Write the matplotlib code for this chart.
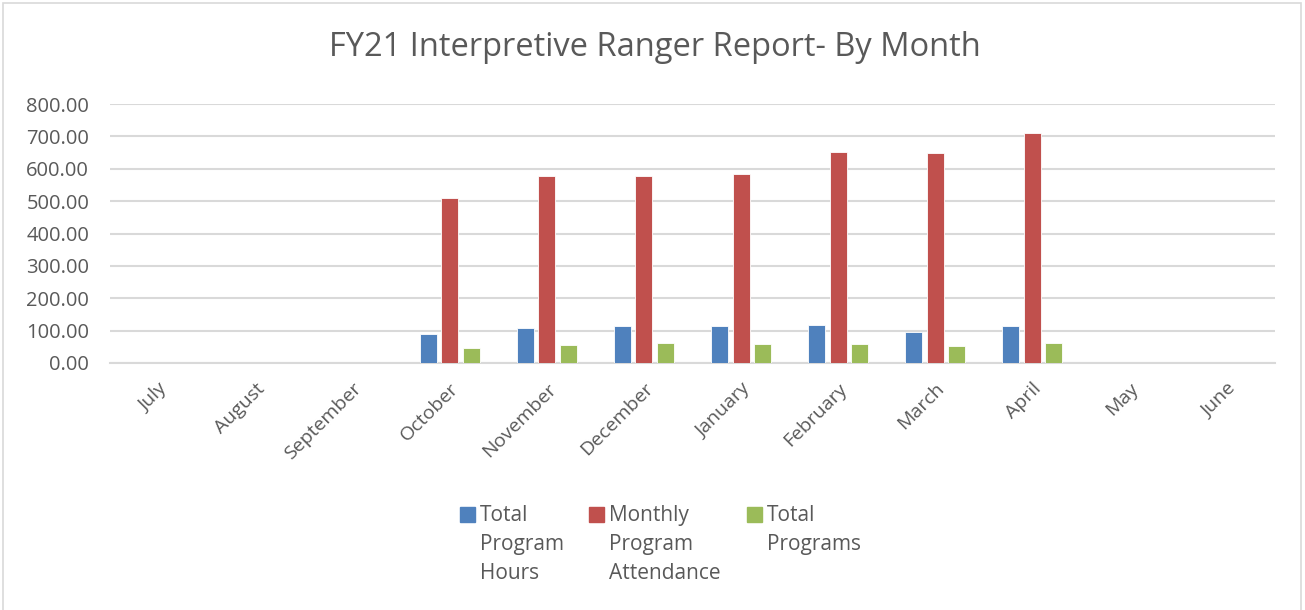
#!/usr/bin/env python3
# -*- coding: utf-8 -*-

import numpy as np
import matplotlib
matplotlib.use('Agg')
import matplotlib.pyplot as plt
from matplotlib.patches import Rectangle

months = ['July', 'August', 'September', 'October', 'November', 'December',
          'January', 'February', 'March', 'April', 'May', 'June']
hours = [0, 0, 0, 90, 108, 115, 115, 118, 95, 115, 0, 0]
attendance = [0, 0, 0, 509, 577, 577, 584, 651, 649, 709, 0, 0]
programs = [0, 0, 0, 46, 56, 62, 59, 59, 51, 61, 0, 0]
series_names = ['Total\nProgram\nHours', 'Monthly\nProgram\nAttendance', 'Total\nPrograms']
colors = ['#4f81bd', '#c0504d', '#9bbb59']
yticks = [0, 100, 200, 300, 400, 500, 600, 700, 800]

txt = '#595959'
grid = '#d9d9d9'
plt.rcParams['font.family'] = ['Open Sans', 'DejaVu Sans']

W, H = 1305, 610
fig = plt.figure(figsize=(W / 100, H / 100), dpi=100)
ax = fig.add_axes([110 / W, 1 - 363 / H, (1275 - 110) / W, (363 - 104) / H])

x = np.arange(len(months))
width = 0.175
step = 0.222
for i, (vals, c) in enumerate(zip([hours, attendance, programs], colors)):
    ax.bar(x + (i - 1) * step, vals, width, color=c, edgecolor='white', linewidth=0.6, zorder=3)

ax.set_xlim(-0.5, len(months) - 0.5)
ax.set_ylim(0, 800)
ax.set_yticks(yticks)
ax.set_yticklabels([f'{v:.2f}' for v in yticks], color=txt, fontsize=14.5)
ax.yaxis.grid(True, color=grid, linewidth=1.5, zorder=0)
ax.set_xticks(x)
ax.set_xticklabels(months, rotation=45, ha='right', rotation_mode='anchor', color=txt, fontsize=14)
ax.tick_params(axis='y', length=0, pad=15)
ax.tick_params(axis='x', length=0, pad=12)
for s in ['top', 'right', 'left']:
    ax.spines[s].set_visible(False)
ax.spines['bottom'].set_color(grid)
ax.spines['bottom'].set_linewidth(1.5)

fig.text(655 / W, 1 - 48 / H, 'FY21 Interpretive Ranger Report- By Month',
         ha='center', va='center', fontsize=23.5, color=txt)

# legend drawn by hand so the marker sits on the first line
leg_x = [460, 589, 747]
for lx, name, c in zip(leg_x, series_names, colors):
    fig.patches.append(Rectangle((lx / W, 1 - 522 / H), 15 / W, 15 / H,
                                 transform=fig.transFigure, color=c))
    fig.text((lx + 20) / W, 1 - 505 / H, name, ha='left', va='top',
             fontsize=15, color=txt, linespacing=1.5)

fig.patches.append(Rectangle((3 / W, -0.05), 1298 / W, 1 - 3 / H + 0.05,
                             transform=fig.transFigure, fill=False,
                             edgecolor=grid, linewidth=1.2))

fig.savefig('out.png', dpi=100)
